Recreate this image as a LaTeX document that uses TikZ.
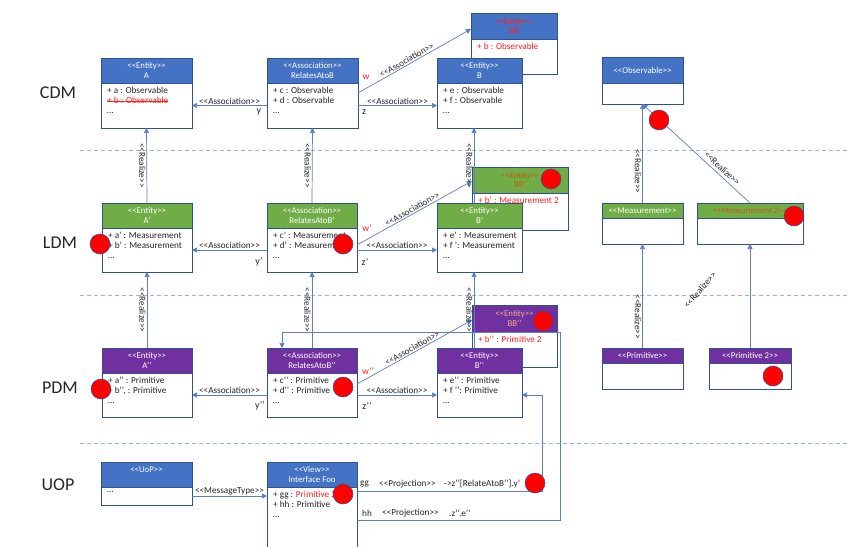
\documentclass[tikz,border=0pt]{standalone}
\usepackage{fontspec}
\newfontfamily\cf{Carlito}
\usetikzlibrary{arrows.meta}
\definecolor{blueH}{HTML}{4472C4}
\definecolor{greenH}{HTML}{70AD47}
\definecolor{purpleH}{HTML}{7030A0}
\definecolor{bord}{HTML}{2F528F}
\definecolor{connC}{HTML}{5B7FC7}
\definecolor{sepC}{HTML}{9DB5DE}
\definecolor{orangeT}{HTML}{C55A11}
\definecolor{peachT}{HTML}{F4B183}
\definecolor{redT}{HTML}{FF1F1F}
\definecolor{txt}{HTML}{262626}
\newcommand\strk[1]{\setbox0\hbox{#1}\rlap{\rule[0.28em]{\wd0}{0.5pt}}\box0}
\newcommand\umlbox[9]{%
  \node[hdr,#7,minimum width=#4pt,minimum height=#5pt,anchor=north west] (#1) at (#2,#3) {#8};
  \node[bodybox,minimum width=#4pt,minimum height=#6pt,anchor=north west] (#1b) at (#1.south west) {};
  \node[bodytext,anchor=north west] (#1t) at ([xshift=6pt,yshift=-4pt]#1b.north west) {#9};
}
\begin{document}
\begin{tikzpicture}[x=1pt,y=-1pt,
  hdr/.style={draw=bord,line width=0.9pt,inner sep=0pt,outer sep=0pt,text=white,align=center,font=\cf\fontsize{8.8}{9.8}\selectfont},
  bluebox/.style={fill=blueH},
  greenbox/.style={fill=greenH},
  purplebox/.style={fill=purpleH},
  bodybox/.style={draw=bord,line width=0.9pt,fill=white,inner sep=0pt,outer sep=0pt},
  bodytext/.style={inner sep=0pt,align=left,font=\cf\fontsize{9.2}{10}\selectfont,text=txt},
  conn/.style={draw=connC,line width=0.7pt,-{Triangle[length=5pt,width=5pt]}},
  lbl/.style={font=\cf\fontsize{9.2}{10}\selectfont,text=txt,inner sep=1pt},
  rlz/.style={lbl,rotate=-90,anchor=north},
  rlbl/.style={font=\cf\fontsize{9.5}{10}\selectfont,text=redT,inner sep=1pt},
  sep/.style={draw=sepC,line width=0.8pt,dash pattern=on 4pt off 3pt},
  dot/.style={circle,fill=red,draw=bord,line width=0.5pt,minimum size=20pt,inner sep=0pt},
  rowlbl/.style={font=\cf\fontsize{18}{20}\selectfont,text=txt}]
\useasboundingbox[fill=white] (0,0) rectangle (850,546);

% separators and row labels
\draw[sep] (80,150) -- (850,150);
\draw[sep] (80,295) -- (850,295);
\draw[sep] (80,443) -- (850,443);
\node[rowlbl] (cdm) at (58,93) {CDM};
\node[rowlbl] (ldm) at (60,243) {LDM};
\node[rowlbl] (pdm) at (60,388) {PDM};
\node[rowlbl] (uop) at (58,485) {UOP};

% CDM
\umlbox{A}{101}{58}{91}{25}{45}{bluebox}{<<Entity>>\\A}{+ a : Observable\\{\color{redT}\strk{+ b : Observable}}\\…}
\umlbox{R}{267}{58}{91}{25}{45}{bluebox}{<<Association>>\\RelatesAtoB}{+ c : Observable\\+ d : Observable\\…}
\umlbox{BB}{471}{13}{86}{26}{35}{bluebox,text=redT}{<<Entity>>\\BB}{\color{redT}+ b : Observable}
\umlbox{B}{437}{58}{85}{25}{45}{bluebox}{<<Entity>>\\B}{+ e : Observable\\+ f : Observable\\…}
\umlbox{Obs}{602}{57}{81}{26}{21}{bluebox}{<<Observable>>}{}

% LDM
\umlbox{Ap}{102}{203}{90}{25}{44}{greenbox}{<<Entity>>\\A’}{+ a’ : Measurement\\+ b’ : Measurement\\…}
\umlbox{Rp}{267}{203}{90}{25}{44}{greenbox}{<<Association>>\\RelatesAtoB’}{+ c’ : Measurement\\+ d’ : Measurement\\…}
\umlbox{BBp}{472}{167}{96}{26}{37}{greenbox,text=orangeT}{<<Entity>>\\BB’}{\color{redT}+ b’ : Measurement 2}
\umlbox{Bp}{437}{203}{85}{25}{44}{greenbox}{<<Entity>>\\B’}{+ e’ : Measurement\\+ f ’: Measurement\\…}
\umlbox{Meas}{602}{203}{81}{15}{26}{greenbox}{<<Measurement>>}{}
\umlbox{MeasB}{697}{203}{106}{15}{26}{greenbox,text=orangeT}{<<Measurement 2>>}{}

% PDM
\umlbox{App}{102}{348}{90}{25}{44}{purplebox}{<<Entity>>\\A’’}{+ a’’ : Primitive\\+ b’’, : Primitive\\…}
\umlbox{Rpp}{267}{348}{90}{25}{44}{purplebox}{<<Association>>\\RelatesAtoB’’}{+ c’’ : Primitive\\+ d’’ : Primitive\\…}
\umlbox{BBpp}{472}{305}{85}{27}{35}{purplebox,text=peachT}{<<Entity>>\\BB’’}{\color{redT}+ b’’ : Primitive 2}
\umlbox{Bpp}{437}{348}{85}{25}{44}{purplebox}{<<Entity>>\\B’’}{+ e’’ : Primitive\\+ f ’’: Primitive\\…}
\umlbox{Prim}{602}{348}{81}{15}{26}{purplebox}{<<Primitive>>}{}
\umlbox{PrimB}{709}{348}{82}{15}{26}{purplebox}{<<Primitive 2>>}{}

% UOP
\umlbox{UoP}{101}{462}{91}{25}{18}{bluebox}{<<UoP>>\\\mbox{}}{…}
\umlbox{View}{267}{462}{90}{25}{80}{bluebox}{<<View>>\\Interface Foo}{+ gg : {\color{redT}Primitive 2}\\+ hh : Primitive\\…}

% CDM connectors
\draw[conn] (Rb.west) -- node[lbl,above] (a1) {<<Association>>} (Ab.east);
\draw[conn] (Rb.east) -- node[lbl,above] (a2) {<<Association>>} (Bb.west);
\draw[conn] ([yshift=-10pt]Rb.north east) -- node[lbl,above,sloped,pos=0.45] (a3) {<<Association>>} ([yshift=-3pt]BB.west);
% LDM connectors
\draw[conn] (Rpb.west) -- node[lbl,above] (a4) {<<Association>>} (Apb.east);
\draw[conn] (Rpb.east) -- node[lbl,above] (a5) {<<Association>>} (Bpb.west);
\draw[conn] ([yshift=-17pt]Rpb.north east) -- node[lbl,above,sloped,pos=0.5] (a6) {<<Association>>} ([yshift=-1pt]BBp.west);
% PDM connectors
\draw[conn] (Rppb.west) -- node[lbl,above] (a7) {<<Association>>} (Appb.east);
\draw[conn] (Rppb.east) -- node[lbl,above] (a8) {<<Association>>} (Bppb.west);
\draw[conn] ([yshift=-11pt]Rppb.north east) -- node[lbl,above,sloped,pos=0.5] (a9) {<<Association>>} ([yshift=-1.5pt]BBpp.west);

% realize (vertical)
\draw[conn] (Ap.north) -- node[rlz] (r1) {<<Realize>>} (Ab.south);
\draw[conn] (Rp.north) -- node[rlz] (r2) {<<Realize>>} (Rb.south);
\draw[conn] ([xshift=-5.5pt]Bp.north) -- node[rlz] (r3) {<<Realize>>} ([xshift=-5.5pt]Bb.south);
\draw[conn] (App.north) -- node[rlz] (r4) {<<Realize>>} (Apb.south);
\draw[conn] (Rpp.north) -- node[rlz] (r5) {<<Realize>>} (Rpb.south);
\draw[conn] ([xshift=-5.5pt]Bpp.north) -- node[rlz] (r6) {<<Realize>>} ([xshift=-5.5pt]Bpb.south);
\draw[conn] (Meas.north) -- node[rlz,pos=0.32] (r7) {<<Realize>>} (Obsb.south);
\draw[conn] (MeasB.north) -- node[lbl,sloped,above=2pt,pos=0.3] (r8) {<<Realize>>} (Obsb.south);
\draw[conn] (Prim.north) -- node[rlz,pos=0.3] (r9) {<<Realize>>} (Measb.south);
\draw[conn] (PrimB.north) -- (MeasBb.south);
\node[lbl,rotate=49] (r10) at (700,290) {<<Realize>>};

% UOP connectors
\draw[conn] (UoPb.east) -- node[lbl,above] (m1) {<<MessageType>>} (UoPb.east -| Viewb.west);
\draw[conn] ([yshift=-4pt]Viewb.north east) -| ([xshift=20pt]Bppb.east) -- (Bppb.east);
\draw[conn] ([yshift=-33pt]Viewb.north east) -| ([xshift=3pt]BBppb.north east) -| ([xshift=-30pt]Rpp.north);
\node[lbl,anchor=west] (g1) at (359,484) {gg};
\node[lbl,anchor=west] (g2) at (378,484) {<<Projection>>};
\node[lbl,anchor=west] (g3) at (443,484) {->z’’[RelateAtoB’’].y’};
\node[lbl,anchor=west] (h1) at (361,513) {hh};
\node[lbl,anchor=west] (h2) at (381,513) {<<Projection>>};
\node[lbl,anchor=west] (h3) at (448,513) {.z’’.e’’};

% role labels
\node[rlbl] (w1) at (366,77) {w};
\node[rlbl] (w2) at (367,228) {w’};
\node[rlbl] (w3) at (368,371) {w’’};
\node[lbl,font=\cf\fontsize{10}{10}\selectfont] (y1) at (259,112) {y};
\node[lbl,font=\cf\fontsize{10}{10}\selectfont] (z1) at (364,112) {z};
\node[lbl,font=\cf\fontsize{10}{10}\selectfont] (y2) at (259,262) {y’};
\node[lbl,font=\cf\fontsize{10}{10}\selectfont] (z2) at (365,262) {z’};
\node[lbl,font=\cf\fontsize{10}{10}\selectfont] (y3) at (260,406) {y’’};
\node[lbl,font=\cf\fontsize{10}{10}\selectfont] (z3) at (367,406) {z’’};

% red markers
\node[dot] (d1) at (659,120) {};
\node[dot] (d2) at (551,179) {};
\node[dot] (d3) at (794,216) {};
\node[dot] (d4) at (100,244) {};
\node[dot] (d5) at (343,244) {};
\node[dot] (d6) at (101,389) {};
\node[dot] (d7) at (343,387) {};
\node[dot] (d8) at (543,321) {};
\node[dot] (d9) at (773,376) {};
\node[dot] (d10) at (343,494) {};
\node[dot] (d11) at (535,483) {};
\end{tikzpicture}
\end{document}
